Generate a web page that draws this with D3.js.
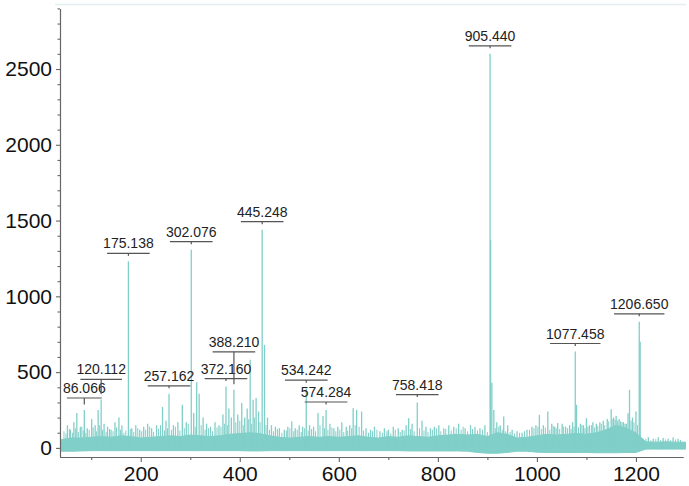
<!DOCTYPE html>
<html>
<head>
<meta charset="utf-8">
<script src="https://cdn.jsdelivr.net/npm/d3@7"></script>
<style>
  body { margin: 0; background: #fff; }
  svg { display: block; font-family: "Liberation Sans", Arial, Helvetica, sans-serif; }
</style>
</head>
<body>
<div id="chart"></div>
<script>
// noise band of the spectrum, read every 20 m/z
const noiseMz = [40, 60, 80, 100, 120, 140, 160, 180, 200, 220, 240, 260, 280, 300, 320, 340,
  360, 380, 400, 420, 440, 460, 480, 500, 520, 540, 560, 580, 600, 620, 640, 660,
  680, 700, 720, 740, 760, 780, 800, 820, 840, 860, 880, 900, 920, 940, 960, 980,
  1000, 1020, 1040, 1060, 1080, 1100, 1120, 1140, 1160, 1180, 1200, 1220, 1240, 1260, 1280, 1300]
const noiseHigh = [55, 65, 65, 70, 75, 70, 80, 75, 65, 70, 75, 80, 75, 85, 80, 75,
  80, 90, 95, 100, 95, 80, 70, 65, 70, 75, 70, 75, 70, 75, 80, 70,
  65, 75, 70, 80, 75, 70, 80, 85, 90, 85, 90, 75, 100, 90, 65, 70,
  80, 90, 85, 90, 95, 90, 100, 120, 150, 130, 100, 40, 38, 40, 38, 38]
const noiseLow = [-22, -22, -20, -18, -18, -18, -18, -18, -18, -18, -18, -18, -18, -18, -18, -18,
  -18, -18, -18, -20, -20, -18, -18, -18, -18, -18, -18, -18, -18, -18, -18, -18,
  -18, -18, -18, -20, -20, -20, -20, -20, -20, -22, -30, -35, -35, -30, -22, -22,
  -28, -30, -30, -30, -30, -30, -32, -32, -32, -30, -30, -8, -8, -8, -8, -8]

// small spikes that make the ragged top of the noise, [m/z, intensity]
const fringe = [[45, 110], [49, 95], [56, 125], [62, 100], [68, 130], [74, 105], [81, 140], [84, 115],
  [89, 100], [96, 120], [104, 135], [111, 110], [117, 150], [123, 120], [130, 105], [137, 125],
  [144, 110], [151, 135], [159, 120], [166, 100], [170, 115], [179, 125], [186, 105], [194, 130],
  [202, 110], [210, 120], [218, 140], [226, 105], [236, 125], [240, 150], [248, 115], [254, 130],
  [262, 120], [270, 140], [279, 115], [288, 130], [296, 160], [310, 140], [322, 150], [330, 120],
  [337, 130], [345, 110], [354, 135], [362, 140], [369, 160], [375, 150], [392, 170], [400, 180],
  [407, 150], [418, 190], [424, 160], [430, 200], [441, 170], [453, 150], [460, 120], [468, 110],
  [476, 125], [485, 100], [494, 115], [501, 130], [509, 110], [516, 120], [524, 105], [531, 130],
  [538, 115], [545, 125], [553, 110], [562, 150], [571, 130], [578, 120], [586, 135], [594, 110],
  [602, 120], [610, 105], [618, 115], [626, 130], [633, 150], [641, 140], [650, 115], [660, 100],
  [668, 110], [677, 120], [688, 100], [697, 110], [705, 95], [714, 120], [724, 105], [732, 115],
  [745, 125], [752, 110], [763, 130], [772, 115], [780, 105], [789, 120], [797, 130], [806, 110],
  [816, 125], [827, 115], [837, 130], [847, 120], [851, 140], [860, 110], [870, 125], [880, 115],
  [890, 120], [900, 105], [916, 130], [923, 140], [930, 120], [937, 110], [946, 105], [955, 95],
  [965, 100], [975, 110], [985, 120], [994, 130], [1002, 140], [1009, 125], [1017, 135], [1026, 120],
  [1033, 145], [1039, 130], [1046, 125], [1054, 140], [1062, 130], [1069, 125], [1075, 140], [1084, 135],
  [1091, 150], [1097, 130], [1103, 140], [1110, 150], [1116, 135], [1123, 145], [1130, 160], [1137, 150],
  [1145, 175], [1152, 190], [1158, 185], [1163, 180], [1169, 175], [1175, 170], [1181, 160], [1190, 180],
  [1196, 170], [1203, 150], [1212, 55], [1220, 60], [1230, 50], [1240, 58], [1250, 52], [1260, 55],
  [1270, 50], [1280, 56], [1290, 52]]

// spikes above the noise
const peakMz = [52, 58, 65, 71, 78, 86.066, 92, 101, 108, 114, 120.112, 126, 133, 140, 148, 156, 162,
  175.138, 182, 190, 198, 206, 214, 222, 232, 244, 251, 257.162, 266, 275, 284, 292, 302.076,
  307, 313, 318, 326, 333, 341, 350, 358, 366, 372.16, 378, 383, 388.21, 396, 404, 410, 415,
  421, 427, 433, 438, 445.248, 450, 456, 464, 472, 480, 490, 497, 505, 512, 520, 527, 534.242,
  541, 549, 558, 568, 574.284, 582, 590, 598, 606, 615, 622, 629, 636, 646, 655, 664, 672, 683,
  692, 700, 710, 720, 728, 736, 741, 748, 758.418, 768, 776, 785, 793, 802, 812, 822, 832, 842,
  855, 866, 875, 885, 895, 905.44, 906.5, 909, 913, 919, 926, 933, 941, 950, 960, 970, 980, 990,
  998, 1005, 1013, 1022, 1030, 1036, 1042, 1051, 1058, 1066, 1072, 1077.458, 1080, 1088, 1094,
  1100, 1106, 1113, 1120, 1127, 1134, 1142, 1150, 1155, 1160, 1166, 1172, 1178, 1184, 1187,
  1193, 1200, 1206.65, 1208.5, 1215, 1225, 1235, 1245, 1255, 1265, 1275, 1285]
const peakInt = [150, 120, 170, 230, 140, 250, 130, 190, 150, 250, 320, 160, 140, 120, 170, 200, 150,
  1231, 130, 150, 120, 140, 160, 130, 150, 270, 180, 357, 150, 170, 285, 170, 1308,
  230, 434, 357, 200, 160, 140, 170, 150, 220, 405, 260, 200, 383, 220, 297, 200, 260,
  581, 317, 330, 240, 1440, 680, 200, 150, 140, 130, 120, 140, 174, 130, 150, 140, 394,
  150, 140, 230, 210, 250, 160, 130, 140, 170, 140, 150, 262, 250, 240, 130, 120, 140, 110,
  130, 120, 140, 130, 120, 150, 196, 160, 299, 180, 140, 130, 140, 150, 130, 150, 140, 160,
  130, 150, 140, 130, 150, 2600, 1370, 430, 250, 170, 150, 207, 150, 120, 110, 100, 120, 140,
  150, 218, 150, 240, 160, 140, 165, 160, 140, 150, 170, 636, 284, 160, 150,
  196, 150, 170, 160, 170, 180, 190, 255, 200, 210, 190, 170, 160, 229, 383,
  200, 240, 832, 700, 60, 70, 60, 70, 65, 60, 70, 60]

// annotated peaks
const labelMz = [86.066, 120.112, 175.138, 257.162, 302.076, 372.160, 388.210, 445.248,
  534.242, 574.284, 758.418, 905.440, 1077.458, 1206.650]
const labelInt = [250, 320, 1231, 357, 1308, 405, 383, 1440, 394, 250, 299, 2600, 636, 832]
const labelText = ["86.066", "120.112", "175.138", "257.162", "302.076", "372.160", "388.210",
  "445.248", "534.242", "574.284", "758.418", "905.440", "1077.458", "1206.650"]

const xTicks = [200, 400, 600, 800, 1000, 1200]
const yTicks = [0, 500, 1000, 1500, 2000, 2500]

const width = 689, height = 486
const color = "#80cfc8"

const x = d3.scaleLinear().domain([37, 1295]).range([60, 683])
const y = d3.scaleLinear().domain([-60, 2900]).range([457, 8.4])

const svg = d3.select("#chart").append("svg")
    .attr("width", width)
    .attr("height", height)

// faint frame line on top
svg.append("line")
    .attr("x1", 55).attr("x2", 686)
    .attr("y1", 4.5).attr("y2", 4.5)
    .attr("stroke", "#e4eeee")
    .attr("stroke-width", 1.5)

const noise = noiseMz.map((m, i) => ({ mz: m, hi: noiseHigh[i], lo: noiseLow[i] }))

// noise band
svg.append("path")
    .datum(noise)
    .attr("fill", color)
    .attr("stroke", color)
    .attr("stroke-width", 1)
    .attr("d", d3.area()
        .x(d => x(d.mz))
        .y0(d => y(d.lo))
        .y1(d => y(d.hi)))

// ragged fringe
svg.append("g")
    .attr("stroke", color)
    .attr("stroke-width", 1)
    .selectAll("line")
    .data(fringe)
    .join("line")
    .attr("x1", d => x(d[0]))
    .attr("x2", d => x(d[0]))
    .attr("y1", y(0))
    .attr("y2", d => y(d[1]))

// spikes
svg.append("g")
    .attr("stroke", color)
    .attr("stroke-width", 1.3)
    .selectAll("line")
    .data(peakMz.map((m, i) => ({ mz: m, v: peakInt[i] })))
    .join("line")
    .attr("x1", d => x(d.mz))
    .attr("x2", d => x(d.mz))
    .attr("y1", y(0))
    .attr("y2", d => y(d.v))

// axes
const xAxis = g => g
    .attr("transform", `translate(0,${y.range()[0]})`)
    .call(d3.axisBottom(x).tickValues(xTicks).tickFormat(d3.format("d"))
        .tickSize(5).tickPadding(4).tickSizeOuter(0))
    .call(g => g.selectAll("text").attr("font-size", 21).attr("fill", "#111"))

const xMinor = g => g
    .attr("transform", `translate(0,${y.range()[0]})`)
    .call(d3.axisBottom(x).tickValues([100, 300, 500, 700, 900, 1100]).tickFormat("").tickSize(3).tickSizeOuter(0))

const yAxis = g => g
    .attr("transform", `translate(${x.range()[0]},0)`)
    .call(d3.axisLeft(y).tickValues(yTicks).tickFormat(d3.format("d"))
        .tickSize(4).tickPadding(4).tickSizeOuter(0))
    .call(g => g.selectAll("text").attr("font-size", 21).attr("fill", "#111"))

const yMinor = g => g
    .attr("transform", `translate(${x.range()[0]},0)`)
    .call(d3.axisLeft(y).tickValues(d3.range(100, 3000, 100).filter(v => v % 500 && v <= 2900))
        .tickFormat("").tickSize(2.5).tickSizeOuter(0))

svg.append("g").call(xMinor)
svg.append("g").call(yMinor)
svg.append("g").call(xAxis)
svg.append("g").call(yAxis)

svg.selectAll(".domain, .tick line")
    .attr("stroke", "#666")
    .attr("stroke-width", 1.1)

// peak annotations: text, bracket and a short leader
const lift = { "86.066": 4, "120.112": 12, "388.210": 30 }
const ann = svg.append("g")
    .selectAll("g")
    .data(labelMz.map((m, i) => ({ mz: m, v: labelInt[i], t: labelText[i] })))
    .join("g")
    .attr("transform", d => `translate(${x(d.mz)},${y(d.v) - 8 - (lift[d.t] || 0)})`)

ann.append("text")
    .attr("y", -5)
    .attr("text-anchor", "middle")
    .attr("font-size", 14)
    .attr("fill", "#222")
    .text(d => d.t)

ann.each(function () {
    const g = d3.select(this)
    const w = g.select("text").node().getComputedTextLength() - 8
    g.append("line")
        .attr("x1", -w / 2).attr("x2", w / 2)
        .attr("stroke", "#555").attr("stroke-width", 1.2)
})

ann.append("line")
    .attr("y2", d => 2.5 + (lift[d.t] || 0))
    .attr("stroke", "#555")
    .attr("stroke-width", 1.2)
</script>
</body>
</html>
